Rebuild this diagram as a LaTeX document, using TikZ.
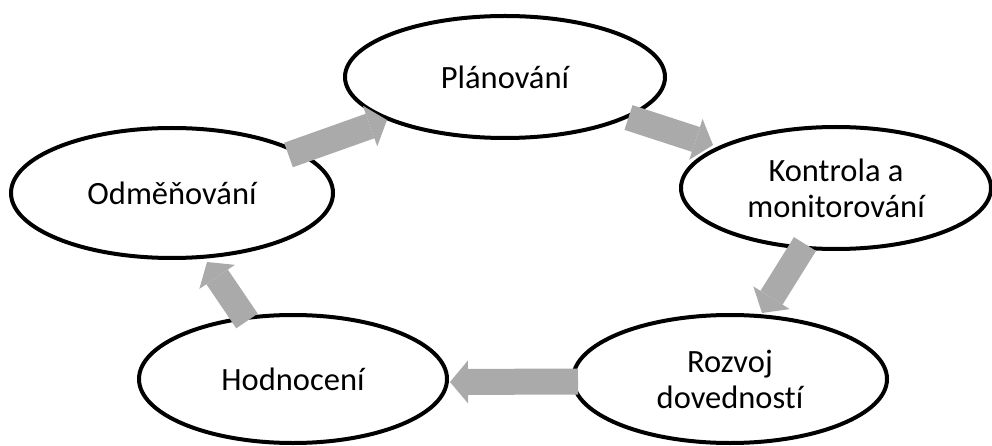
\documentclass[tikz,border=0pt]{standalone}
\usepackage{fontspec}
\setmainfont{Carlito}[Ligatures={NoCommon}]
\usetikzlibrary{shapes.geometric,arrows.meta}
\definecolor{arrowgray}{RGB}{170,170,170}
\begin{document}
\begin{tikzpicture}[x=1pt,y=-1pt,
  stage/.style={ellipse, draw=black, line width=4pt, fill=white, inner sep=0pt,
    align=center, font=\fontsize{32.5}{36}\selectfont},
  blockarrow/.style={draw=arrowgray, line width=26pt,
    -{Triangle[length=18pt,width=43pt,line width=0pt]}}]
\useasboundingbox (0,0) rectangle (992,446);
\node[stage, minimum width=322pt, minimum height=130pt] (o) at (172,193) {Odměňování};
\node[stage, minimum width=320pt, minimum height=122pt] (p) at (505,77) {Plánování};
\node[stage, minimum width=310pt, minimum height=122pt] (k) at (836,188) {Kontrola a\\monitorování};
\node[stage, minimum width=314pt, minimum height=128pt] (r) at (730,379) {Rozvoj\\dovedností};
\node[stage, minimum width=308pt, minimum height=128pt] (h) at (293,379) {Hodnocení};
\draw[blockarrow] ([shift={(116.5,-38)}]o.center) -- ([shift={(-118,43)}]p.center);
\draw[blockarrow] ([shift={(123.5,40.5)}]p.center) -- ([shift={(-123,-43)}]k.center);
\draw[blockarrow] ([shift={(-31,56)}]k.center) -- ([shift={(32,-66)}]r.center);
\draw[blockarrow] ([shift={(-152,2.5)}]r.center) -- ([shift={(157,3)}]h.center);
\draw[blockarrow] ([shift={(-46,-58)}]h.center) -- ([shift={(35,69)}]o.center);
\end{tikzpicture}
\end{document}
